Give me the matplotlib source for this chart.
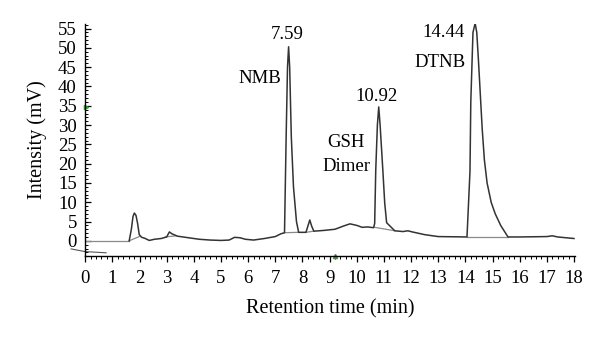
import numpy as np
import matplotlib
matplotlib.use("Agg")
import matplotlib.pyplot as plt
from matplotlib.ticker import MultipleLocator

plt.rcParams.update({
    "font.family": ["Liberation Serif", "DejaVu Serif"],
    "font.size": 13.5,
})

# chromatogram trace (time in min, intensity in mV)
trace_t = [1.62, 1.70, 1.76, 1.81, 1.87, 1.93, 1.99, 2.08, 2.18, 2.36, 2.55,
           2.8, 3.0, 3.1, 3.2, 3.4, 3.8, 4.2, 4.6, 5.0, 5.3, 5.5, 5.7, 5.9, 6.2,
           6.6, 7.0, 7.2, 7.34, 7.40, 7.45, 7.49, 7.53, 7.59, 7.67, 7.78, 7.86,
           8.13, 8.20, 8.27, 8.34, 8.42, 8.8, 9.2, 9.5, 9.75, 10.0, 10.2, 10.4,
           10.62, 10.66, 10.70, 10.76, 10.81, 10.86, 10.96, 11.03, 11.10, 11.4,
           11.7, 11.88, 12.05, 12.5, 13.0, 14.06, 14.17, 14.20, 14.28, 14.36,
           14.42, 14.48, 14.55, 14.62, 14.70, 14.80, 14.95, 15.1, 15.3, 15.57,
           16.0, 17.0, 17.2, 17.4, 18.0]
trace_mv = [0.0, 3.0, 6.3, 7.2, 6.6, 4.5, 1.6, 0.9, 0.7, 0.1, 0.4,
            0.6, 1.0, 2.3, 1.8, 1.2, 0.8, 0.4, 0.2, 0.1, 0.2, 0.9, 0.8, 0.4, 0.2,
            0.6, 1.1, 1.8, 2.1, 27.0, 45.0, 50.3, 45.0, 27.0, 14.0, 5.0, 2.2,
            2.2, 3.8, 5.4, 3.8, 2.5, 2.7, 3.0, 3.8, 4.4, 4.0, 3.5, 3.6,
            3.4, 4.5, 18.4, 30.0, 34.7, 30.0, 18.4, 9.8, 4.7, 2.6,
            2.4, 2.6, 2.3, 1.6, 1.1, 1.0, 18.0, 36.0, 54.0, 56.4,
            54.0, 47.0, 38.0, 29.0, 21.0, 15.0, 10.0, 7.0, 4.0, 1.0,
            1.0, 1.1, 1.3, 1.0, 0.6]

# integration baselines (start/end of each drop line), lighter grey
base_t0 = [0.0, 1.62, 2.95, 7.34, 8.13, 10.66, 14.06]
base_y0 = [0.0, 0.0, 1.0, 2.1, 2.2, 3.5, 1.0]
base_t1 = [1.62, 1.99, 3.35, 7.86, 8.42, 11.4, 15.57]
base_y1 = [0.0, 1.1, 1.3, 2.2, 2.5, 2.6, 1.0]

# small artefact under the axis start
art_t = [-0.52, 0.0, 0.77]
art_mv = [-2.1, -2.8, -3.1]

peak_labels = ["7.59", "10.92", "14.44"]
peak_lab_x = [7.42, 10.74, 13.99]
peak_lab_y = [53.5, 37.3, 54.1]
peak_ha = ["center", "center", "right"]
name_labels = ["NMB", "GSH", "Dimer", "DTNB"]
name_x = [7.2, 9.62, 9.62, 13.99]
name_y = [42.2, 25.4, 19.2, 46.1]
name_ha = ["right", "center", "center", "right"]

fig = plt.figure(figsize=(6.0, 3.38), dpi=100)
ax = fig.add_axes([0.142, 0.243, 0.816, 0.686])

for x0, y0, x1, y1 in zip(base_t0, base_y0, base_t1, base_y1):
    ax.plot([x0, x1], [y0, y1], color="#8a8a8a", lw=0.9)
ax.plot(trace_t, trace_mv, color="#333333", lw=1.1)
ax.plot(art_t, art_mv, color="#555555", lw=0.8, clip_on=False)

ax.set_xlim(0, 18.03)
ax.set_ylim(-3.9, 56.2)

for s in ["top", "right"]:
    ax.spines[s].set_visible(False)
for s in ["left", "bottom"]:
    ax.spines[s].set_linewidth(1.0)

ax.xaxis.set_major_locator(MultipleLocator(1))
ax.xaxis.set_minor_locator(MultipleLocator(0.2))
ax.set_yticks(np.arange(0, 56, 5))
ax.yaxis.set_minor_locator(MultipleLocator(1))
ax.tick_params(axis="x", which="major", direction="out", length=4, width=0.9, pad=6)
ax.tick_params(axis="x", which="minor", direction="out", length=2, width=0.7)
ax.tick_params(axis="y", which="major", direction="in", length=4, width=0.9, pad=6)
ax.tick_params(axis="y", which="minor", direction="in", length=2.5, width=0.7)

# little green event markers from the software
ax.plot([0.02], [34.7], marker=">", color="#3a9a3a", ms=3, clip_on=False)
ax.plot([9.2], [-3.9], marker="^", color="#3a9a3a", ms=3, clip_on=False)

for lab, x, y, ha in zip(peak_labels, peak_lab_x, peak_lab_y, peak_ha):
    ax.text(x, y, lab, ha=ha, va="center", fontsize=13.5)
for lab, x, y, ha in zip(name_labels, name_x, name_y, name_ha):
    ax.text(x, y, lab, ha=ha, va="center", fontsize=13.5)

ax.set_xlabel("Retention time (min)", fontsize=14.5, labelpad=9)
ax.set_ylabel("Intensity (mV)", fontsize=14.5, labelpad=8)

fig.savefig("out.png", dpi=100)
